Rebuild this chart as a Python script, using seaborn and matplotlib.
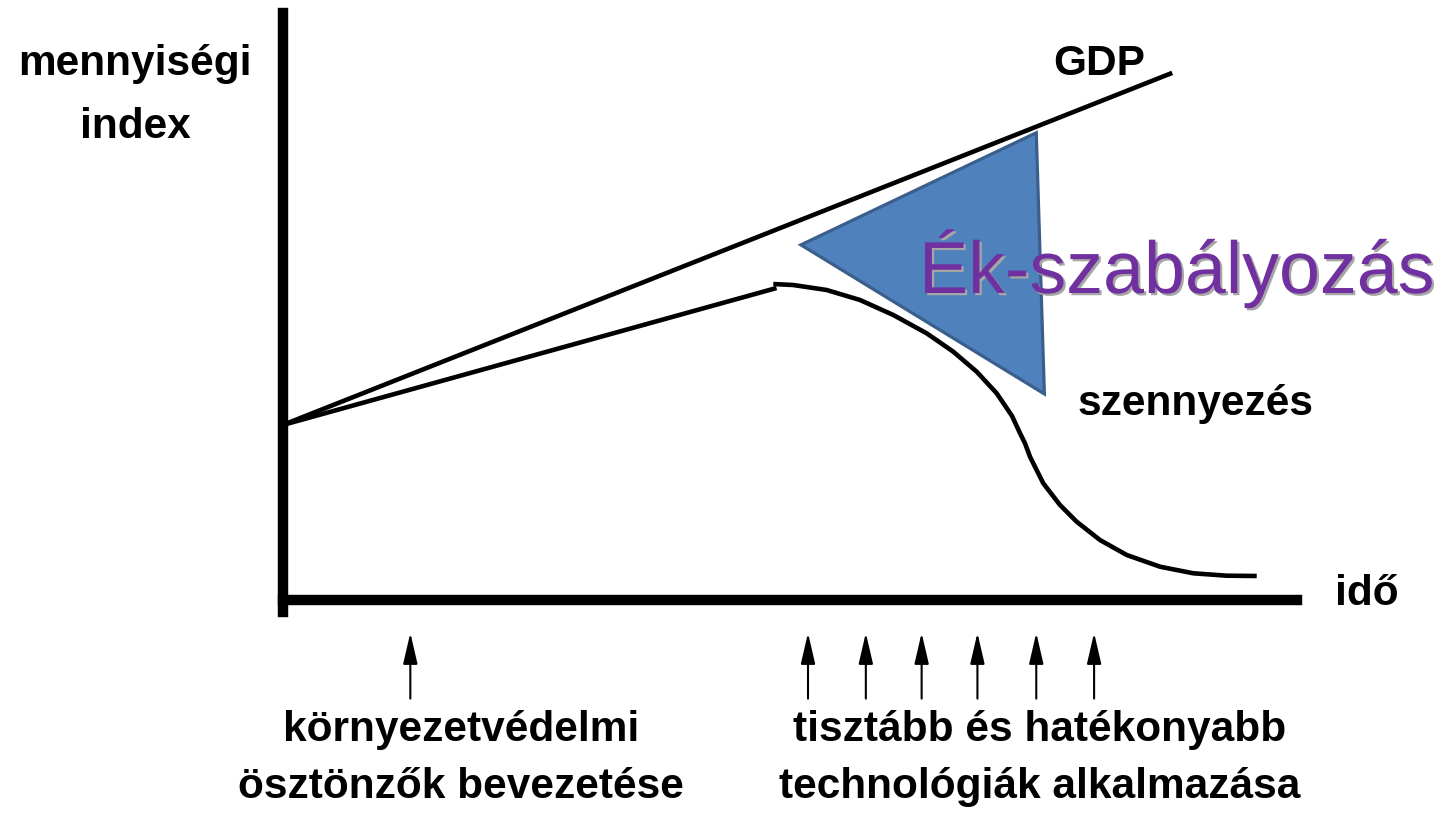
import matplotlib
matplotlib.use("Agg")
import matplotlib.pyplot as plt
import matplotlib.patheffects as pe
from matplotlib import font_manager
import numpy as np
import pandas as pd
import seaborn as sns

# ---------------- data ----------------
# time axis: 0..100, index axis: 0..100
gdp_time = [0.0, 87.7]
gdp_index = [29.8, 89.8]

poll_straight_time = [0.0, 48.7]
poll_straight_index = [29.8, 53.15]

poll_curve_time = [48.38, 50.35, 53.64, 56.92, 60.21, 63.50, 66.12, 68.43, 70.40,
                   71.91, 72.70, 73.19, 73.68, 74.99, 76.64, 78.28, 80.58, 83.21,
                   86.50, 89.78, 93.07, 96.03]
poll_curve_index = [53.83, 53.66, 52.81, 51.11, 48.55, 45.43, 42.30, 38.89, 35.21,
                    31.35, 28.40, 26.69, 24.41, 19.88, 16.18, 13.34, 10.22, 7.67,
                    5.67, 4.55, 4.14, 4.09]

wedge_time = [51.1, 74.3, 75.1]
wedge_index = [60.5, 79.6, 35.1]

arrow_times = [12.6, 51.8, 57.5, 63.0, 68.5, 74.3, 80.0]

label_y = ["mennyiségi", "index"]
label_x = "idő"
label_gdp = "GDP"
label_poll = "szennyezés"
label_wedge = "Ék-szabályozás"
label_left = ["környezetvédelmi", "ösztönzők bevezetése"]
label_right = ["tisztább és hatékonyabb", "technológiák alkalmazása"]

# ---------------- style ----------------
sns.set_style("white")
names = {f.name for f in font_manager.fontManager.ttflist}
if "Liberation Sans Narrow" in names:
    bold_family = ["Liberation Sans Narrow", "Liberation Sans", "DejaVu Sans"]
    bold_size = 37
else:
    bold_family = ["Liberation Sans", "DejaVu Sans"]
    bold_size = 30.5
plt.rcParams["font.family"] = ["Liberation Sans", "DejaVu Sans"]

W, H = 1445, 813
fig = plt.figure(figsize=(W / 100, H / 100), dpi=100)
fig.patch.set_facecolor("white")
ax = fig.add_axes([282.5 / W, 213 / H, 1014.5 / W, 587 / H])
ax.set_xlim(0, 100)
ax.set_ylim(0, 100)
ax.set_xticks([])
ax.set_yticks([])
for s in ["top", "right"]:
    ax.spines[s].set_visible(False)
for s in ["left", "bottom"]:
    ax.spines[s].set_linewidth(7.5)
    ax.spines[s].set_color("black")
ax.spines["left"].set_bounds(-2.0, 100)
ax.patch.set_alpha(0)

lw = 3.3
# wedge (triangle)
ax.fill(wedge_time, wedge_index, facecolor="#4F81BD", edgecolor="#3A5F8C",
        linewidth=2.3, zorder=2, joinstyle="miter")

# lines via seaborn
df_gdp = pd.DataFrame({"t": gdp_time, "v": gdp_index})
sns.lineplot(data=df_gdp, x="t", y="v", color="black", lw=lw, ax=ax,
             estimator=None, sort=False, legend=False, zorder=3)

df_poll = pd.DataFrame({
    "t": poll_straight_time + poll_curve_time,
    "v": poll_straight_index + poll_curve_index,
    "seg": ["a"] * len(poll_straight_time) + ["b"] * len(poll_curve_time),
})
sns.lineplot(data=df_poll, x="t", y="v", units="seg", color="black", lw=lw,
             ax=ax, estimator=None, sort=False, legend=False, zorder=3)
for line in ax.lines:
    line.set_solid_joinstyle("round")
    line.set_solid_capstyle("butt")
    line.set_clip_on(False)
ax.set_xlabel("")
ax.set_ylabel("")

# arrows below axis
for t in arrow_times:
    ax.annotate("", xy=(t, -5.6), xytext=(t, -16.8), xycoords="data",
                annotation_clip=False,
                arrowprops=dict(arrowstyle="-|>,head_length=0.95,head_width=0.22",
                                mutation_scale=20, lw=1.5, color="black",
                                shrinkA=0, shrinkB=0))


def ftext(px, py, s, **kw):
    fig.text(px / W, 1 - py / H, s, **kw)


bold = dict(family=bold_family, fontsize=bold_size, fontweight="bold", color="black",
            va="baseline")
ftext(135, 75, label_y[0], ha="center", **bold)
ftext(135, 138, label_y[1], ha="center", **bold)
ftext(1099, 75, label_gdp, ha="center", **bold)
ftext(1196, 415, label_poll, ha="center", **bold)
ftext(1335, 605, label_x, ha="left", **bold)
ftext(461, 741, label_left[0], ha="center", **bold)
ftext(461, 798, label_left[1], ha="center", **bold)
ftext(1040, 741, label_right[0], ha="center", **bold)
ftext(1040, 798, label_right[1], ha="center", **bold)

ftext(919, 293, label_wedge, ha="left", va="baseline", fontsize=53,
      family=["Liberation Sans", "DejaVu Sans"], color="#7030A0",
      path_effects=[pe.withSimplePatchShadow(offset=(1.6, -1.6),
                                             shadow_rgbFace="#A6A6A6", alpha=1.0)])

fig.savefig("out.png", dpi=100, facecolor="white")
